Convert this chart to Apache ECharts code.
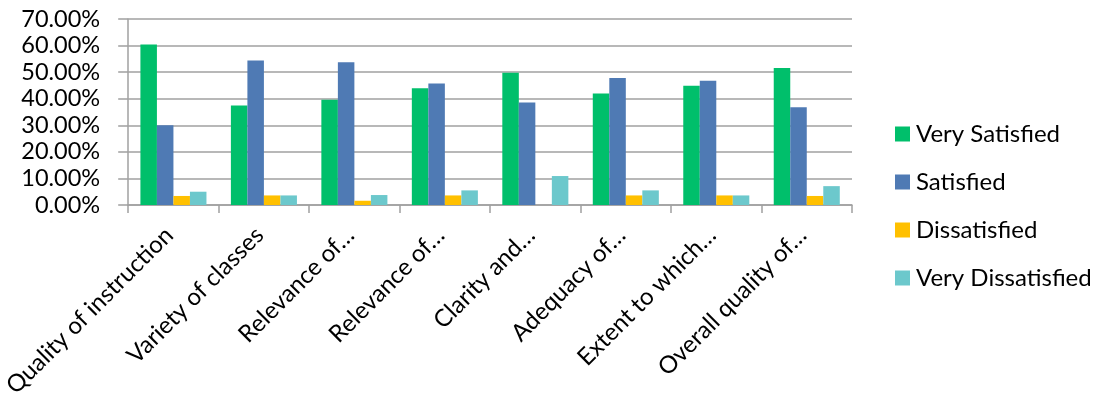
<!DOCTYPE html>
<html>
<head>
<meta charset="utf-8">
<script src="https://cdn.jsdelivr.net/npm/echarts@6/dist/echarts.min.js"></script>
<style>
  html, body { margin: 0; padding: 0; background: #fff; }
  #chart { width: 1097px; height: 402px; }
</style>
</head>
<body>
<div id="chart"></div>
<script>
// Survey categories (long names are shortened with an ellipsis on the axis)
const categories = [
  'Quality of instruction',
  'Variety of classes',
  'Relevance of…',
  'Relevance of…',
  'Clarity and…',
  'Adequacy of…',
  'Extent to which…',
  'Overall quality of…'
];

// Share of respondents per rating
const verySatisfied     = [0.604, 0.374, 0.396, 0.439, 0.4975, 0.42, 0.449, 0.516];
const satisfied         = [0.30, 0.544, 0.5375, 0.4575, 0.386, 0.4775, 0.4675, 0.3675];
const dissatisfied      = [0.034, 0.036, 0.016, 0.036, 0.0, 0.036, 0.036, 0.034];
const veryDissatisfied  = [0.05, 0.036, 0.0375, 0.055, 0.109, 0.055, 0.036, 0.071];

const seriesNames = ['Very Satisfied', 'Satisfied', 'Dissatisfied', 'Very Dissatisfied'];
const seriesData = [verySatisfied, satisfied, dissatisfied, veryDissatisfied];
const seriesColors = ['#00BF6B', '#4F7AB4', '#FFC000', '#6CC8CC'];

const FONT = 'Lato, "Open Sans", sans-serif';

const chart = echarts.init(document.getElementById('chart'), null, { renderer: 'canvas' });

chart.setOption({
  animation: false,
  backgroundColor: '#ffffff',
  textStyle: { fontFamily: FONT },
  grid: { left: 128, right: 245, top: 19, bottom: 197, containLabel: false },
  legend: {
    orient: 'vertical',
    left: 895,
    top: 122,
    padding: 0,
    itemWidth: 15,
    itemHeight: 15,
    itemGap: 24,
    icon: 'rect',
    textStyle: { fontFamily: FONT, fontSize: 24, color: '#000', lineHeight: 24, padding: [0, 0, 0, 1] },
    data: seriesNames
  },
  xAxis: {
    type: 'category',
    data: categories,
    boundaryGap: true,
    axisLine: { lineStyle: { color: '#A0A0A0', width: 1.5 } },
    axisTick: { show: true, length: 8, lineStyle: { color: '#A0A0A0', width: 1.5 } },
    axisLabel: {
      interval: 0,
      rotate: 45,
      margin: 22,
      padding: [0, 6, 0, 0],
      fontFamily: FONT,
      fontSize: 24,
      color: '#000'
    }
  },
  yAxis: {
    type: 'value',
    min: 0,
    max: 0.7,
    interval: 0.1,
    axisLine: { show: true, lineStyle: { color: '#A0A0A0', width: 1.5 } },
    axisTick: { show: true, inside: false, length: 10, lineStyle: { color: '#A0A0A0', width: 1.5 } },
    splitLine: { show: true, lineStyle: { color: '#A0A0A0', width: 1.5 } },
    axisLabel: {
      margin: 28,
      fontFamily: FONT,
      fontSize: 23.5,
      color: '#000',
      formatter: v => (v * 100).toFixed(2) + '%'
    }
  },
  series: seriesNames.map((name, i) => ({
    name,
    type: 'bar',
    data: seriesData[i],
    barGap: '0%',
    barCategoryGap: '27%',
    itemStyle: { color: seriesColors[i] }
  }))
});
</script>
</body>
</html>
